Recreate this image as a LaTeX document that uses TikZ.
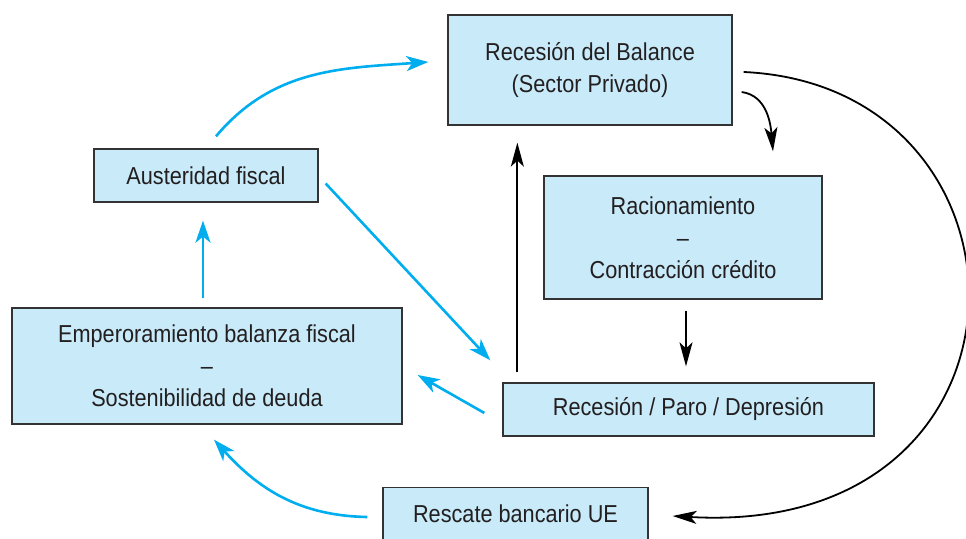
\documentclass[tikz,border=0pt]{standalone}
\usepackage{fontspec}
\setmainfont{Liberation Sans}[FakeStretch=0.885]
\usetikzlibrary{arrows.meta}
\definecolor{cajafondo}{HTML}{C8EAF9}
\definecolor{cajaborde}{HTML}{333333}
\definecolor{flechaazul}{HTML}{00AEEF}
\definecolor{texto}{HTML}{231F20}
\begin{document}
\begin{tikzpicture}[x=1pt,y=1pt,
	caja/.style={draw=cajaborde,line width=1.3pt,fill=cajafondo,inner sep=0pt,align=center,
		text=texto,font=\fontsize{24.5}{32}\selectfont},
	azul/.style={draw=flechaazul,line width=2.6pt,-{Stealth[length=22pt,width=15pt,inset=6pt]}},
	negra/.style={draw=black,line width=1.8pt,-{Stealth[length=24pt,width=13pt,inset=6pt]}}]
		\useasboundingbox (0,0) rectangle (966,538);
		\node[caja,minimum width=284pt,minimum height=110pt] (balance) at (590,468) {Recesión del Balance\\(Sector Privado)};
		\node[caja,minimum width=224pt,minimum height=53pt] (austeridad) at (206,362.5) {Austeridad fiscal};
		\node[caja,minimum width=278pt,minimum height=123pt] (racionamiento) at (683,300.5) {Racionamiento\\--\\Contracción crédito};
		\node[caja,minimum width=390pt,minimum height=116pt] (fiscal) at (207,172) {Emperoramiento balanza fiscal\\--\\Sostenibilidad de deuda};
		\node[caja,minimum width=371pt,minimum height=53pt] (recesion) at (688.5,128.5) {Recesión / Paro / Depresión};
		\node[caja,minimum width=265pt,minimum height=53pt] (rescate) at (515.5,24) {Rescate bancario UE};
		% flechas azules
		\draw[azul] ([shift={(10,12)}]austeridad.north) to[out=50,in=184] ([shift={(-19,8)}]balance.west);
		\draw[azul] ([shift={(7,-8)}]austeridad.east) -- ([shift={(-12,22)}]recesion.north west);
		\draw[azul] ([shift={(-18,-3.5)}]recesion.west) -- ([shift={(15,-9)}]fiscal.east);
		\draw[azul] ([shift={(-4,9)}]fiscal.north) -- ([shift={(-3,-18)}]austeridad.south);
		\draw[azul] ([shift={(-15,-3)}]rescate.west) to[out=179,in=-48] ([shift={(7,-15)}]fiscal.south);
		% flechas negras
		\draw[negra] ([shift={(15,10)}]recesion.north west) -- ([shift={(70,-17)}]balance.south west);
		\draw[negra] ([shift={(9,-22)}]balance.east) to[out=-8,in=95] ([shift={(90,24)}]racionamiento.north);
		\draw[negra] ([shift={(3,-11)}]racionamiento.south) -- ([shift={(-2.5,16)}]recesion.north);
		\draw[negra] ([shift={(11,-2)}]balance.east) .. controls (1050,452) and (1055,0) .. ([shift={(24,-2)}]rescate.east);
	\end{tikzpicture}
\end{document}
